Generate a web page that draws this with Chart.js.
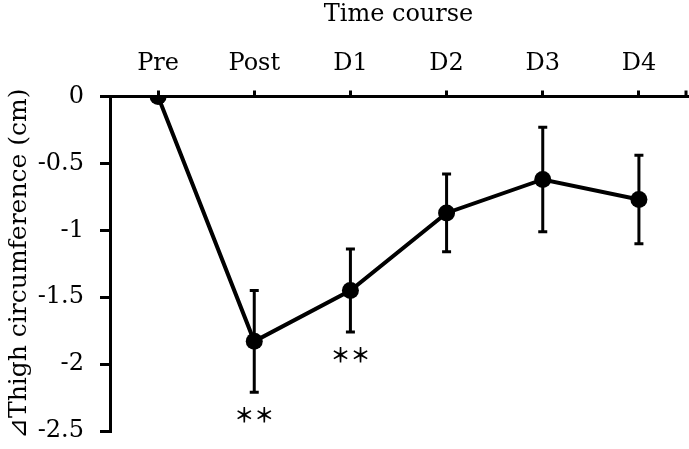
<!DOCTYPE html>
<html>
<head>
<meta charset="utf-8">
<script src="https://cdn.jsdelivr.net/npm/chart.js@4"></script>
<style>
  html, body { margin: 0; padding: 0; background: #fff; }
  #wrap { width: 689px; height: 449px; }
</style>
</head>
<body>
<div id="wrap"><canvas id="chart"></canvas></div>
<script>
const labels = ['Pre', 'Post', 'D1', 'D2', 'D3', 'D4'];
const means = [0, -1.83, -1.45, -0.87, -0.62, -0.77];
const errors = [0, 0.38, 0.31, 0.29, 0.39, 0.33];
const marks = ['', '＊＊', '＊＊', '', '', ''];
const yTicks = [0, -0.5, -1, -1.5, -2, -2.5];

const FONT = 'DejaVu Serif';

// error bars + significance stars
const errorBars = {
    id: 'errorBars',
    afterDatasetsDraw(chart) {
        const ctx = chart.ctx;
        const x = chart.scales.x;
        const y = chart.scales.y;
        ctx.save();
        ctx.strokeStyle = '#000';
        ctx.lineWidth = 3;
        means.forEach((m, i) => {
            if (!errors[i]) return;
            const px = x.getPixelForValue(i);
            const top = y.getPixelForValue(m + errors[i]);
            const bot = y.getPixelForValue(m - errors[i]);
            ctx.beginPath();
            ctx.moveTo(px, top); ctx.lineTo(px, bot);
            ctx.moveTo(px - 4.5, top); ctx.lineTo(px + 4.5, top);
            ctx.moveTo(px - 4.5, bot); ctx.lineTo(px + 4.5, bot);
            ctx.stroke();
            if (marks[i]) {
                ctx.fillStyle = '#000';
                ctx.font = 'bold 20px "Noto Sans CJK JP"';
                ctx.textAlign = 'center';
                ctx.textBaseline = 'middle';
                ctx.fillText(marks[i], px, bot + 23);
            }
        });
        // tick at the right end of the top axis
        ctx.beginPath();
        ctx.moveTo(chart.chartArea.right - 1, y.getPixelForValue(0));
        ctx.lineTo(chart.chartArea.right - 1, y.getPixelForValue(0) - 6);
        ctx.stroke();
        ctx.restore();
    }
};

new Chart(document.getElementById('chart'), {
    type: 'line',
    data: {
        labels: labels,
        datasets: [{
            data: means,
            borderColor: '#000',
            backgroundColor: '#000',
            borderWidth: 4,
            pointRadius: 8.5,
            pointBackgroundColor: '#000',
            pointBorderWidth: 0,
            tension: 0
        }]
    },
    options: {
        responsive: true,
        maintainAspectRatio: false,
        animation: false,
        layout: { autoPadding: false, padding: { top: 0, right: 2, bottom: 18, left: 0 } },
        plugins: { legend: { display: false }, tooltip: { enabled: false } },
        scales: {
            x: {
                position: 'top',
                offset: true,
                border: { color: '#000', width: 3 },
                grid: { offset: false, drawOnChartArea: false, color: '#000', lineWidth: 3, tickLength: 6 },
                ticks: { color: '#000', font: { family: FONT, size: 24 }, padding: 12 },
                title: { display: true, text: 'Time course', color: '#000', font: { family: FONT, size: 24 }, padding: { top: 0, bottom: 6 } },
                afterFit(scale) {
                    scale.height = 96.5;
                    scale.paddingLeft = 0;
                    scale.paddingRight = 0;
                }
            },
            y: {
                min: -2.5,
                max: 0,
                afterBuildTicks(scale) { scale.ticks = yTicks.map(v => ({ value: v })); },
                border: { color: '#000', width: 3 },
                grid: { drawOnChartArea: false, color: '#000', lineWidth: 3, tickLength: 10 },
                ticks: { color: '#000', font: { family: FONT, size: 24 }, padding: 16, callback: v => String(v) },
                title: { display: true, text: '⊿Thigh circumference (cm)', color: '#000', font: { family: FONT, size: 25 }, padding: { top: 4, bottom: 0 } },
                afterFit(scale) {
                    scale.width = 110;
                    scale.paddingTop = 0;
                    scale.paddingBottom = 0;
                }
            }
        }
    },
    plugins: [errorBars]
});
</script>
</body>
</html>
